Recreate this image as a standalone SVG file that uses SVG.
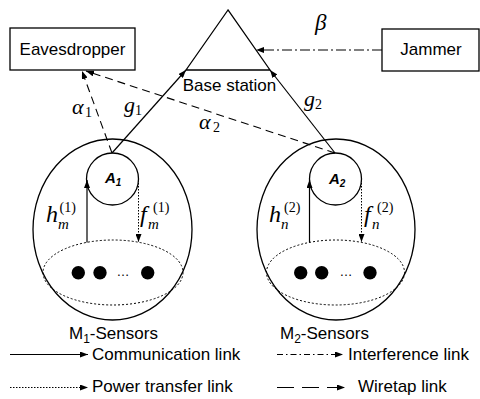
<svg xmlns="http://www.w3.org/2000/svg" width="480" height="399" viewBox="0 0 480 399">
  <defs>
    <marker id="arrow" markerUnits="userSpaceOnUse" markerWidth="8" markerHeight="6" refX="8" refY="3" orient="auto">
      <path d="M0,0 L8,3 L0,6 z" fill="#000"/>
    </marker>
    <style>
      .box { fill: #fff; stroke: #000; stroke-width: 1.3; }
      .shape { fill: none; stroke: #000; stroke-width: 1.3; }
      .lbl { font-family: "Liberation Sans", Arial, sans-serif; font-size: 17px; fill: #000; }
      .math { font-family: "Liberation Serif", "Times New Roman", serif; font-style: italic; fill: #000; }
      .up { font-style: normal; }
      .node { font-family: "Liberation Sans", Arial, sans-serif; font-weight: bold; font-style: italic; fill: #000; }
      .comm { fill: none; stroke: #000; stroke-width: 1.2; marker-end: url(#arrow); }
      .power { fill: none; stroke: #000; stroke-width: 1; stroke-dasharray: 1.5 1.5; marker-end: url(#arrow); }
      .jam { fill: none; stroke: #000; stroke-width: 1.1; stroke-dasharray: 10 3 2 3; marker-end: url(#arrow); }
      .tap { fill: none; stroke: #000; stroke-width: 1.1; stroke-dasharray: 8 5; marker-end: url(#arrow); }
      .dotted { fill: none; stroke: #000; stroke-width: 1; stroke-dasharray: 2 2; }
    </style>
  </defs>
  <rect width="480" height="399" fill="#fff"/>

  <!-- Eavesdropper -->
  <g id="eavesdropper">
    <rect class="box" x="10" y="28" width="125" height="42"/>
    <text class="lbl" x="72.5" y="55" text-anchor="middle">Eavesdropper</text>
  </g>

  <!-- Base station -->
  <g id="base-station">
    <polygon class="shape" points="228,10 186,70 270,70"/>
    <text class="lbl" x="229.5" y="91" text-anchor="middle">Base station</text>
  </g>

  <!-- Jammer -->
  <g id="jammer">
    <rect class="box" x="382" y="29" width="97" height="42"/>
    <text class="lbl" x="431" y="55" text-anchor="middle">Jammer</text>
  </g>

  <!-- Cluster 1 -->
  <g id="cluster-1">
    <ellipse class="shape" cx="112.5" cy="229.5" rx="79.5" ry="90.5"/>
    <ellipse class="dotted" cx="113" cy="272.5" rx="70" ry="32.5"/>
    <circle cx="78.3" cy="272.7" r="6.7"/>
    <circle cx="100" cy="272.7" r="6.7"/>
    <text class="lbl" x="123" y="276" text-anchor="middle" style="font-size:13px">…</text>
    <circle cx="147.7" cy="272.7" r="6.7"/>
    <text class="lbl" x="69" y="339">M<tspan font-size="12" dy="4">1</tspan><tspan dy="-4">-Sensors</tspan></text>
  </g>
  <g id="A1">
    <circle class="shape" cx="112.5" cy="179" r="26" fill="#fff"/>
    <text class="node" x="105" y="183" font-size="15">A<tspan font-size="10" dy="3">1</tspan></text>
  </g>

  <!-- Cluster 2 -->
  <g id="cluster-2">
    <ellipse class="shape" cx="336" cy="229.5" rx="79" ry="90.5"/>
    <ellipse class="dotted" cx="335.5" cy="272.5" rx="69" ry="32.5"/>
    <circle cx="300.7" cy="272.7" r="6.7"/>
    <circle cx="321.7" cy="272.7" r="6.7"/>
    <text class="lbl" x="346" y="276" text-anchor="middle" style="font-size:13px">…</text>
    <circle cx="370" cy="272.7" r="6.7"/>
    <text class="lbl" x="280" y="339">M<tspan font-size="12" dy="4">2</tspan><tspan dy="-4">-Sensors</tspan></text>
  </g>
  <g id="A2">
    <circle class="shape" cx="335.5" cy="179" r="26" fill="#fff"/>
    <text class="node" x="329" y="184" font-size="15">A<tspan font-size="10" dy="3">2</tspan></text>
  </g>

  <!-- Connectors -->
  <g id="connectors">
    <line class="comm" x1="112" y1="153" x2="186" y2="70"/>
    <line class="comm" x1="335" y1="153" x2="270" y2="70"/>
    <line class="jam" x1="382" y1="50" x2="256" y2="50"/>
    <line class="tap" x1="112" y1="153" x2="82" y2="71"/>
    <line class="tap" x1="335" y1="153" x2="86" y2="71"/>
    <line class="comm" x1="87" y1="242.5" x2="87" y2="180"/>
    <line class="power" x1="138.5" y1="180" x2="138.5" y2="242"/>
    <line class="comm" x1="309.5" y1="242.5" x2="309.5" y2="180"/>
    <line class="power" x1="361.5" y1="180" x2="361.5" y2="242"/>
  </g>

  <!-- Channel labels -->
  <g id="channel-labels">
    <text class="math" x="72" y="114" font-size="22">α<tspan class="up" x="85" y="117" font-size="14">1</tspan></text>
    <text class="math" x="124" y="112" font-size="22">g<tspan class="up" x="135" y="115" font-size="14">1</tspan></text>
    <text class="math" x="199" y="129" font-size="22">α<tspan class="up" x="213" y="132" font-size="14">2</tspan></text>
    <text class="math" x="304" y="106" font-size="22">g<tspan class="up" x="315" y="109" font-size="14">2</tspan></text>
    <text class="math" x="315" y="30" font-size="23">β</text>

    <text class="math" x="46" y="222" font-size="24">h<tspan x="58" y="229" font-size="15">m</tspan><tspan class="up" x="59.5" y="211.5" font-size="14">(1)</tspan></text>
    <text class="math" x="140" y="222" font-size="24">f<tspan x="148" y="229" font-size="15">m</tspan><tspan class="up" x="153" y="211.5" font-size="14">(1)</tspan></text>

    <text class="math" x="269" y="222" font-size="24">h<tspan x="281" y="229" font-size="15">n</tspan><tspan class="up" x="284" y="211.5" font-size="14">(2)</tspan></text>
    <text class="math" x="364" y="222" font-size="24">f<tspan x="372" y="229" font-size="15">n</tspan><tspan class="up" x="377" y="211.5" font-size="14">(2)</tspan></text>
  </g>

  <!-- Legend -->
  <g id="legend">
    <line class="comm" x1="10" y1="354.5" x2="88" y2="354.5"/>
    <text class="lbl" x="92" y="360">Communication link</text>
    <line class="power" x1="10" y1="387.5" x2="88" y2="387.5"/>
    <text class="lbl" x="92" y="392">Power transfer link</text>
    <line class="jam" x1="277" y1="354.5" x2="343" y2="354.5" style="stroke-dasharray:6 3 1.5 3"/>
    <text class="lbl" x="348" y="360">Interference link</text>
    <line class="tap" x1="277" y1="387.5" x2="345" y2="387.5" style="stroke-dasharray:17 8"/>
    <text class="lbl" x="358" y="392">Wiretap link</text>
  </g>
</svg>
